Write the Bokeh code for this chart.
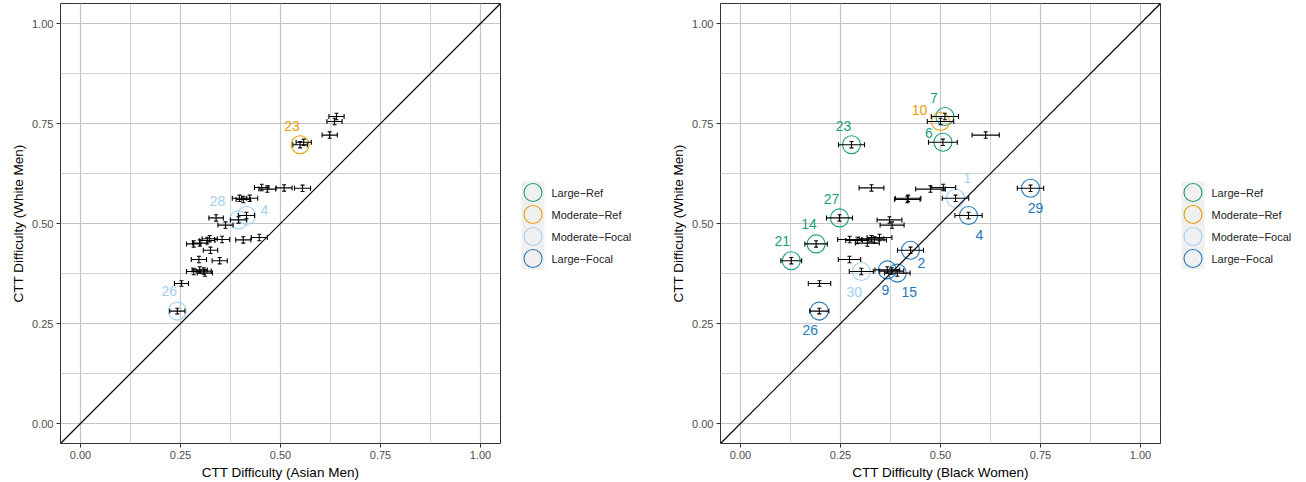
from bokeh.plotting import figure
from bokeh.models import (Range1d, FixedTicker, NumeralTickFormatter, Whisker, TeeHead,
                          ColumnDataSource, Slope)
from bokeh.layouts import row
from bokeh.embed import file_html
from bokeh.resources import INLINE
from bokeh.core.properties import value

FONT = "Liberation Sans"

# ---------------- data ----------------
item_label = ["7", "10", "", "23", "6", "", "", "", "29", "1", "", "", "27", "4", "28", "",
              "14", "", "", "", "", "", "", "2", "", "21", "30", "9", "", "15", "", "26"]

y_white = [0.7675, 0.755, 0.721, 0.697, 0.703, 0.590, 0.586, 0.589, 0.588, 0.563, 0.560, 0.563,
           0.514, 0.520, 0.509, 0.496, 0.449, 0.451, 0.4575, 0.462, 0.460, 0.459, 0.465, 0.433,
           0.410, 0.407, 0.380, 0.384, 0.381, 0.376, 0.350, 0.281]
ey_white = [0.008, 0.008, 0.008, 0.008, 0.008, 0.008, 0.008, 0.008, 0.008, 0.008, 0.008, 0.008,
            0.008, 0.008, 0.008, 0.008, 0.008, 0.008, 0.008, 0.008, 0.008, 0.008, 0.008, 0.008,
            0.008, 0.008, 0.008, 0.008, 0.008, 0.008, 0.007, 0.007]

x_asian = [0.640, 0.635, 0.623, 0.549, 0.558, 0.453, 0.467, 0.509, 0.555, 0.3975, 0.407, 0.423,
           0.339, 0.415, 0.395, 0.3625, 0.283, 0.298, 0.317, 0.323, 0.354, 0.407, 0.447, 0.325,
           0.296, 0.348, 0.283, 0.298, 0.308, 0.311, 0.2525, 0.242]
ex_asian = [0.019, 0.019, 0.019, 0.018, 0.019, 0.018, 0.021, 0.020, 0.020, 0.018, 0.018, 0.020,
            0.018, 0.020, 0.020, 0.019, 0.018, 0.018, 0.019, 0.019, 0.019, 0.019, 0.020, 0.018,
            0.019, 0.019, 0.018, 0.019, 0.019, 0.019, 0.0175, 0.019]

x_black = [0.511, 0.500, 0.613, 0.2775, 0.506, 0.507, 0.475, 0.3275, 0.725, 0.5375, 0.417, 0.419,
           0.2475, 0.570, 0.3725, 0.379, 0.189, 0.317, 0.292, 0.3275, 0.273, 0.335, 0.3475, 0.425,
           0.2725, 0.127, 0.302, 0.367, 0.378, 0.392, 0.1975, 0.197]
ex_black = [0.034, 0.033, 0.034, 0.0325, 0.036, 0.031, 0.037, 0.031, 0.033, 0.033, 0.032, 0.032,
            0.0325, 0.034, 0.031, 0.030, 0.028, 0.030, 0.029, 0.031, 0.030, 0.030, 0.031, 0.0325,
            0.028, 0.026, 0.030, 0.031, 0.030, 0.032, 0.028, 0.024]

group_asian = {"23": "Moderate-Ref", "28": "Moderate-Focal", "4": "Moderate-Focal",
               "26": "Moderate-Focal"}
group_black = {"7": "Large-Ref", "6": "Large-Ref", "23": "Large-Ref", "27": "Large-Ref",
               "14": "Large-Ref", "21": "Large-Ref", "10": "Moderate-Ref",
               "1": "Moderate-Focal", "30": "Moderate-Focal",
               "29": "Large-Focal", "4": "Large-Focal", "2": "Large-Focal", "9": "Large-Focal",
               "15": "Large-Focal", "26": "Large-Focal"}

legend_names = ["Large\u2212Ref", "Moderate\u2212Ref", "Moderate\u2212Focal", "Large\u2212Focal"]
legend_keys = ["Large-Ref", "Moderate-Ref", "Moderate-Focal", "Large-Focal"]
group_colors = {"Large-Ref": "#1B9E77", "Moderate-Ref": "#E69F00",
                "Moderate-Focal": "#A3D0F0", "Large-Focal": "#2478B8"}

ticks = [0.0, 0.25, 0.5, 0.75, 1.0]
minor = [0.125, 0.375, 0.625, 0.875]

# label offsets (screen px) -- layout only
off_asian = {"23": (-8, -19), "28": (-21, -19), "4": (18, -6), "26": (-8, -20)}
off_black = {"7": (-11, -19), "10": (-21, -12), "6": (-14, -9), "23": (-8, -19),
             "27": (-8, -19), "14": (-7, -20), "21": (-9, -20), "1": (12, -20),
             "29": (5, 20), "4": (11, 19), "2": (11, 13), "9": (-2, 20), "15": (12, 19),
             "30": (-7, 20), "26": (-9, 19)}

H = 482
TOP = 3
BOTTOM = 39


def panel(xs, exs, groups, offsets, xlabel, width, border_left):
    p = figure(width=width, height=H, x_range=Range1d(-0.05, 1.05), y_range=Range1d(-0.05, 1.05),
               toolbar_location=None, output_backend="svg",
               min_border_left=border_left, min_border_right=5, min_border_top=TOP,
               min_border_bottom=BOTTOM, background_fill_color="white")
    p.outline_line_color = "#333333"
    p.outline_line_width = 1
    for ax in (p.xaxis, p.yaxis):
        ax.ticker = FixedTicker(ticks=ticks, minor_ticks=minor)
        ax.formatter = NumeralTickFormatter(format="0.00")
        ax.major_label_text_font = FONT
        ax.major_label_text_font_size = "11px"
        ax.major_label_text_color = "#4D4D4D"
        ax.axis_label_text_font = FONT
        ax.axis_label_text_font_size = "13.5px"
        ax.axis_label_text_font_style = "normal"
        ax.axis_label_text_color = "black"
        ax.axis_line_color = None
        ax.major_tick_line_color = "#333333"
        ax.major_tick_in = 0
        ax.major_tick_out = 4
        ax.minor_tick_line_color = None
        ax.major_label_standoff = 3
        ax.axis_label_standoff = 3
    p.xaxis.axis_label = xlabel
    p.yaxis.axis_label = "CTT Difficulty (White Men)"
    for g in (p.xgrid, p.ygrid):
        g.grid_line_color = "#C4C4C4"
        g.grid_line_width = 1.2
        g.minor_grid_line_color = "#D2D2D2"
        g.minor_grid_line_width = 1

    p.add_layout(Slope(gradient=1, y_intercept=0, line_color="black", line_width=1.2))

    src = ColumnDataSource(dict(
        x=xs, y=y_white,
        xl=[a - b for a, b in zip(xs, exs)], xu=[a + b for a, b in zip(xs, exs)],
        yl=[a - b for a, b in zip(y_white, ey_white)], yu=[a + b for a, b in zip(y_white, ey_white)]))
    p.add_layout(Whisker(source=src, base="y", lower="xl", upper="xu", dimension="width",
                         line_color="black", line_width=1.1, level="glyph",
                         upper_head=TeeHead(size=5, line_color="black", line_width=1.1),
                         lower_head=TeeHead(size=5, line_color="black", line_width=1.1)))
    p.add_layout(Whisker(source=src, base="x", lower="yl", upper="yu", dimension="height",
                         line_color="black", line_width=1.1, level="glyph",
                         upper_head=TeeHead(size=4, line_color="black", line_width=1.1),
                         lower_head=TeeHead(size=4, line_color="black", line_width=1.1)))

    idx = [i for i, lab in enumerate(item_label) if lab in groups]
    hs = ColumnDataSource(dict(
        x=[xs[i] for i in idx], y=[y_white[i] for i in idx],
        text=[item_label[i] for i in idx],
        color=[group_colors[groups[item_label[i]]] for i in idx],
        dx=[offsets[item_label[i]][0] for i in idx],
        dy=[offsets[item_label[i]][1] for i in idx]))
    p.scatter("x", "y", source=hs, marker="circle", size=18, fill_color=None,
              line_color="color", line_width=1.1)
    p.text("x", "y", text="text", source=hs, x_offset="dx", y_offset="dy",
           text_color="color", text_align="center", text_baseline="middle",
           text_font=value(FONT), text_font_size="14px")
    return p


def legend_fig(x0, width):
    # the row aligns frame borders with the panels, so the frame spans TOP..H-BOTTOM
    lf = figure(width=width, height=H, x_range=Range1d(x0, x0 + width),
                y_range=Range1d(H - BOTTOM, TOP),
                toolbar_location=None, output_backend="svg", min_border=0,
                min_border_top=TOP, min_border_bottom=BOTTOM,
                x_axis_location=None, y_axis_location=None, outline_line_color=None)
    lf.grid.visible = False
    kx = x0 + 16
    ky = 181
    step = 22
    n = len(legend_keys)
    lf.quad(left=[kx], right=[kx + 23], top=[ky], bottom=[ky + n * step],
            fill_color="#F0F0F0", line_color=None)
    ls = ColumnDataSource(dict(
        x=[kx + 11.5] * n, tx=[kx + 30] * n,
        y=[ky + step / 2 + step * i for i in range(n)],
        name=legend_names, color=[group_colors[k] for k in legend_keys]))
    lf.scatter("x", "y", source=ls, marker="circle", size=18, fill_color=None,
               line_color="color", line_width=1.1)
    lf.text("tx", "y", text="name", source=ls, text_align="left", text_baseline="middle",
            text_color="#1A1A1A", text_font=value(FONT), text_font_size="11px")
    return lf


p1 = panel(x_asian, ex_asian, group_asian, off_asian, "CTT Difficulty (Asian Men)", 505, 60)
l1 = legend_fig(505, 155)
p2 = panel(x_black, ex_black, group_black, off_black, "CTT Difficulty (Black Women)", 505, 60)
l2 = legend_fig(1165, 135)

layout = row(p1, l1, p2, l2, spacing=0)
open("out.html", "w").write(file_html(layout, INLINE))
